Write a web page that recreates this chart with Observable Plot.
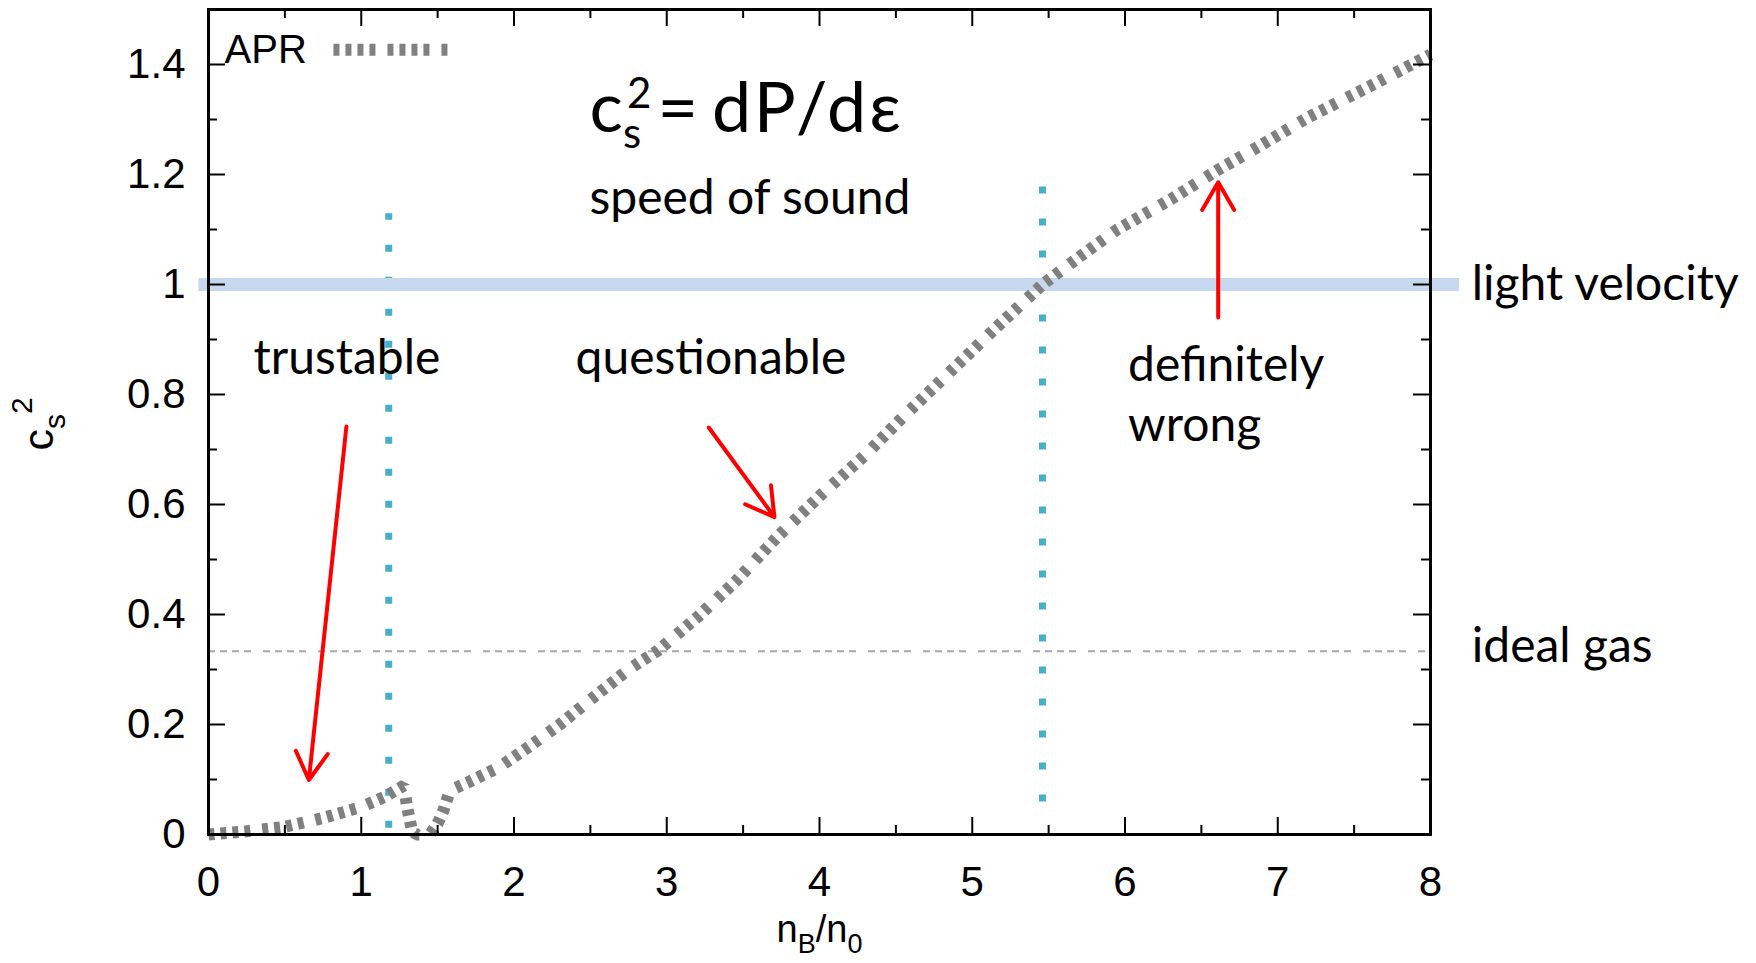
<!DOCTYPE html>
<html>
<head>
<meta charset="utf-8">
<script src="https://cdn.jsdelivr.net/npm/d3@7"></script>
<script src="https://cdn.jsdelivr.net/npm/@observablehq/plot@0.6"></script>
<style>
  html, body { margin: 0; padding: 0; background: #fff; }
  #chart svg { display: block; }
</style>
</head>
<body>
<div id="chart"></div>
<script>
// ---- data ----
const nB  = [0, 0.25, 0.5, 0.75, 1.0, 1.15, 1.28, 1.30, 1.33, 1.36, 1.45, 1.5, 1.54, 1.58, 1.7, 1.9, 2.1, 2.3, 2.5, 2.75, 2.94, 3.2, 3.45, 3.72, 4.0, 4.3, 4.55, 4.85, 5.15, 5.46, 5.7, 5.95, 6.3, 6.6, 6.9, 7.2, 7.6, 8.0];
const cs2 = [0, 0.006, 0.014, 0.03, 0.05, 0.068, 0.089, 0.05, 0.01, 0, 0, 0.02, 0.045, 0.08, 0.095, 0.122, 0.16, 0.2, 0.245, 0.3, 0.334, 0.395, 0.46, 0.54, 0.615, 0.69, 0.76, 0.84, 0.92, 1.0, 1.05, 1.1, 1.155, 1.207, 1.255, 1.304, 1.36, 1.418];

const xTicks = [0, 1, 2, 3, 4, 5, 6, 7, 8];
const xTickLabels = ["0", "1", "2", "3", "4", "5", "6", "7", "8"];
const xMinor = [0.5, 1.5, 2.5, 3.5, 4.5, 5.5, 6.5, 7.5];
const yTicks = [0, 0.2, 0.4, 0.6, 0.8, 1, 1.2, 1.4];
const yTickLabels = ["0", "0.2", "0.4", "0.6", "0.8", "1", "1.2", "1.4"];
const yMinor = [0.1, 0.3, 0.5, 0.7, 0.9, 1.1, 1.3];

const lightVelocity = 1;
const bandFrom = -0.063, bandTo = 8.19;
const idealGas = 1 / 3;

const boundX    = [1.18, 5.46];
const boundLow  = [0.0113, 0.059];
const boundHigh = [1.1287, 1.1785];

const arrowX1 = [0.903, 3.275, 6.61];
const arrowY1 = [0.742, 0.740, 0.94];
const arrowX2 = [0.657, 3.705, 6.61];
const arrowY2 = [0.099, 0.577, 1.186];

const noteText = ["speed of sound", "trustable", "questionable", "definitely", "wrong", "light velocity", "ideal gas"];
const noteX    = [2.494, 0.295, 2.403, 6.02, 6.02, 8.27, 8.27];
const noteY    = [1.129, 0.838, 0.838, 0.825, 0.715, 0.971, 0.3133];

const formulaText = "cs2 = dP/dε";
const formulaX = 2.494, formulaY = 1.278;

const legendLabel = "APR";
const legendTextX = 0.105, legendTextY = 1.402;
const legendLineX = [0.818, 1.571], legendLineY = 1.427;

const xLabel = "nB/n0", xLabelX = 4, xLabelY = -0.196;
const yLabel = "cs^2",  yLabelX = -1.015, yLabelY = 0.698;

// ---- tables built from the arrays ----
const curve  = nB.map((x, i) => ({x, y: cs2[i]}));
const bounds = boundX.map((x, i) => ({x, y1: boundLow[i], y2: boundHigh[i]}));
const arrows = arrowX1.map((x1, i) => ({x1, y1: arrowY1[i], x2: arrowX2[i], y2: arrowY2[i]}));
const notes  = noteText.map((t, i) => ({t, x: noteX[i], y: noteY[i]}));
const legendLine = legendLineX.map(x => ({x, y: legendLineY}));

const W = 1756, H = 963;
const mL = 208, mR = 326, mT = 9, mB = 129;
const plotW = W - mL - mR, plotH = H - mT - mB;
const major = 17, minor = 9;
const gill = "Lato, 'Open Sans', sans-serif";
const helv = "'Liberation Sans', Arial, Helvetica, sans-serif";
const curveDash = "6,6,6,6,6,6,6,12";

const chart = Plot.plot({
  width: W, height: H,
  marginLeft: mL, marginRight: mR, marginTop: mT, marginBottom: mB,
  x: {domain: [0, 8]},
  y: {domain: [0, 1.5]},
  style: {fontFamily: helv, background: "#fff", overflow: "visible", color: "#000"},
  marks: [
    Plot.ruleY([idealGas], {x1: 0, x2: 8, stroke: "#a8a8a8", strokeWidth: 2, strokeDasharray: "7,5,7,5,7,5,7,12"}),
    Plot.ruleX(bounds, {x: "x", y1: "y1", y2: "y2", stroke: "#4aaec8", strokeWidth: 7, strokeDasharray: "7,25"}),
    Plot.ruleY([lightVelocity], {x1: bandFrom, x2: bandTo, stroke: "#c6d8ee", strokeWidth: 13}),
    Plot.line(curve, {x: "x", y: "y", stroke: "#808080", strokeWidth: 12, strokeDasharray: curveDash, strokeLinecap: "butt", strokeLinejoin: "miter"}),
    Plot.line(legendLine, {x: "x", y: "y", stroke: "#808080", strokeWidth: 12, strokeDasharray: curveDash, strokeLinecap: "butt"}),
    // inward ticks on all four sides
    Plot.tickX(xTicks, {x: d => d, stroke: "#000", strokeWidth: 2, insetTop: plotH - major}),
    Plot.tickX(xTicks, {x: d => d, stroke: "#000", strokeWidth: 2, insetBottom: plotH - major}),
    Plot.tickX(xMinor, {x: d => d, stroke: "#000", strokeWidth: 2, insetTop: plotH - minor}),
    Plot.tickX(xMinor, {x: d => d, stroke: "#000", strokeWidth: 2, insetBottom: plotH - minor}),
    Plot.tickY(yTicks, {y: d => d, stroke: "#000", strokeWidth: 2, insetRight: plotW - major}),
    Plot.tickY(yTicks, {y: d => d, stroke: "#000", strokeWidth: 2, insetLeft: plotW - major}),
    Plot.tickY(yMinor, {y: d => d, stroke: "#000", strokeWidth: 2, insetRight: plotW - minor}),
    Plot.tickY(yMinor, {y: d => d, stroke: "#000", strokeWidth: 2, insetLeft: plotW - minor}),
    Plot.frame({stroke: "#000", strokeWidth: 3}),
    Plot.axisX(xTicks, {tickSize: 0, tickPadding: 32, fontSize: 42, label: null, tickFormat: d => xTickLabels[xTicks.indexOf(d)]}),
    Plot.axisY(yTicks, {tickSize: 0, tickPadding: 23, fontSize: 42, label: null, tickFormat: d => yTickLabels[yTicks.indexOf(d)]}),
    Plot.arrow(arrows, {x1: "x1", y1: "y1", x2: "x2", y2: "y2", stroke: "#ff0000", strokeWidth: 4, headLength: 12, headAngle: 60}),
    Plot.text(notes, {x: "x", y: "y", text: "t", textAnchor: "start", lineAnchor: "bottom", fontFamily: gill, fontSize: 48, fill: "#000"}),
    Plot.text([formulaText], {x: formulaX, y: formulaY, text: d => d, textAnchor: "start", lineAnchor: "bottom", fontFamily: gill, fontSize: 70, fill: "#000"}),
    Plot.text([legendLabel], {x: legendTextX, y: legendTextY, text: d => d, textAnchor: "start", lineAnchor: "bottom", fontFamily: helv, fontSize: 40, fill: "#000"}),
    Plot.text([xLabel], {x: xLabelX, y: xLabelY, text: d => d, textAnchor: "middle", lineAnchor: "bottom", fontFamily: helv, fontSize: 38, fill: "#000"}),
    Plot.text([yLabel], {x: yLabelX, y: yLabelY, text: d => d, textAnchor: "start", lineAnchor: "bottom", rotate: -90, fontFamily: helv, fontSize: 43, fill: "#000"})
  ]
});

// sub/superscripts as real text via tspans (matched by the plain text Plot wrote)
function rich(plain, html) {
  chart.querySelectorAll("text").forEach(t => {
    if (t.textContent === plain) t.innerHTML = html;
  });
}
rich(formulaText, 'c<tspan dy="16" font-size="42">s</tspan><tspan dx="-14" dy="-40" font-size="42">2</tspan><tspan dx="6" dy="24">=</tspan><tspan dx="14" letter-spacing="3">dP/dε</tspan>');
rich(xLabel, 'n<tspan dy="11" font-size="27">B</tspan><tspan dy="-11">/n</tspan><tspan dy="11" font-size="27">0</tspan>');
rich(yLabel, 'c<tspan dy="12" font-size="30">s</tspan><tspan dy="-33" font-size="30">2</tspan>');

document.getElementById("chart").appendChild(chart);
</script>
</body>
</html>
